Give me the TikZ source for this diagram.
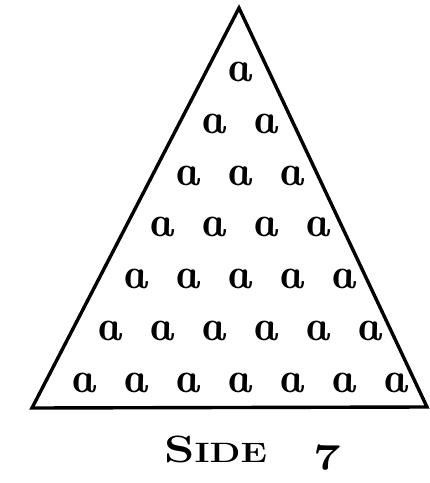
\documentclass[tikz,border=0pt]{standalone}
\usepackage{graphicx}
\tikzset{
  edge/.style={line width=3.4pt, line join=miter},
  letter/.style={inner sep=0pt, xslant=-0.22, transform shape, font=\fontsize{43}{44}\selectfont\bfseries\itshape},
  caption/.style={inner sep=0pt, anchor=base west, font=\bfseries}
}
\newcommand{\captxt}{{\fontsize{38}{40}\selectfont S}{\fontsize{28}{30}\selectfont IDE}\hspace{36pt}\scalebox{1.5}{\fontsize{24.88}{26}\usefont{OML}{cmm}{b}{it}7}}
\begin{document}
\begin{tikzpicture}[x=1pt, y=-1pt]
  \useasboundingbox (0,0) rectangle (430,483);
  \coordinate (top) at (239,8);
  \coordinate (bl) at (32,408);
  \coordinate (br) at (427,407);
  \draw[edge] (top) -- (bl) -- (br) -- cycle;
  \foreach \r in {1,...,7} {
    \foreach \k in {1,...,\r} {
      \node[letter] (a\r-\k) at ({238+(\k-(\r+1)/2)*52}, {72+(\r-1)*51.8}) {a};
    }
  }
  \node[caption, xscale=1.28, transform shape] (cap) at (164,462) {\captxt};
\end{tikzpicture}
\end{document}
